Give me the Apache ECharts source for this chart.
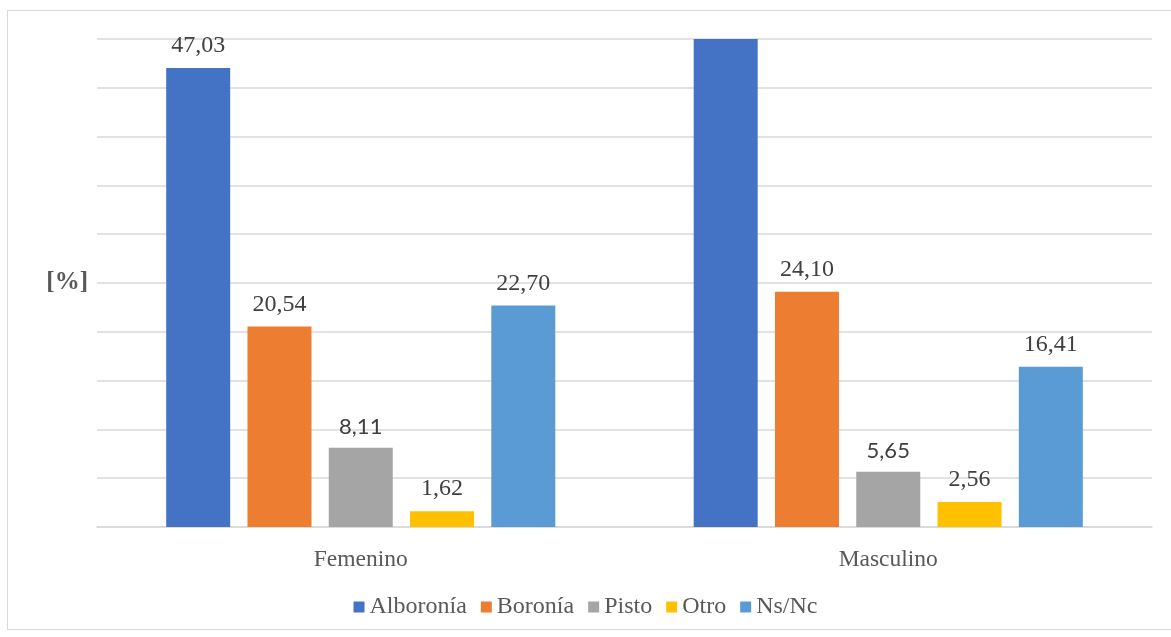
<!DOCTYPE html>
<html>
<head>
<meta charset="utf-8">
<script src="https://cdn.jsdelivr.net/npm/echarts@6/dist/echarts.min.js"></script>
<style>
  html, body { margin: 0; padding: 0; background: #fff; }
  #chart { width: 1171px; height: 637px; }
  #frame { position: absolute; left: 7px; top: 10px; width: 1170px; height: 620px; border: 1px solid #d9d9d9; box-sizing: border-box; pointer-events: none; }
</style>
</head>
<body>
<div id="chart"></div>
<div id="frame"></div>
<script>
var categories = ['Femenino', 'Masculino'];
var seriesNames = ['Alboronía', 'Boronía', 'Pisto', 'Otro', 'Ns/Nc'];
var alboronia = [47.03, 51.28];
var boronia = [20.54, 24.10];
var pisto = [8.11, 5.65];
var otro = [1.62, 2.56];
var nsnc = [22.70, 16.41];
var colors = ['#4472C4', '#ED7D31', '#A5A5A5', '#FFC000', '#5B9BD5'];
var yMax = 50;

var serif = '"Liberation Serif", "Times New Roman", serif';

function makeSeries(name, values, color, sansLabel) {
  return {
    name: name,
    type: 'bar',
    barWidth: 64,
    barGap: '27%',
    clip: true,
    itemStyle: { color: color },
    label: {
      show: true,
      position: 'top',
      distance: 10,
      color: '#404040',
      fontSize: sansLabel ? 22 : 24,
      fontFamily: sansLabel ? 'Lato, "Noto Sans", sans-serif' : serif,
      formatter: function (p) { return p.value.toFixed(2).replace('.', ','); }
    },
    data: values.map(function (v) {
      // Excel hides the label of a bar that runs past the axis max
      return v > yMax ? { value: v, label: { show: false } } : v;
    })
  };
}

var myChart = echarts.init(document.getElementById('chart'));
var option = {
  animation: false,
  grid: { left: 97, right: 19, top: 39, bottom: 110 },
  legend: {
    bottom: 13,
    left: 'center',
    icon: 'rect',
    itemWidth: 11,
    itemHeight: 11,
    itemGap: 14,
    textStyle: { color: '#595959', fontSize: 24, fontFamily: serif },
    data: seriesNames
  },
  xAxis: {
    type: 'category',
    data: categories,
    axisTick: { show: false },
    axisLine: { lineStyle: { color: '#d9d9d9', width: 1.5 } },
    axisLabel: { color: '#595959', fontSize: 23.5, fontFamily: serif, margin: 21 }
  },
  yAxis: {
    type: 'value',
    min: 0,
    max: yMax,
    interval: 5,
    name: '[%]',
    nameLocation: 'middle',
    nameRotate: 0,
    nameGap: 9,
    nameTextStyle: { color: '#595959', fontSize: 25, fontWeight: 'bold', fontFamily: serif, align: 'right' },
    axisLabel: { show: false },
    axisLine: { show: false },
    axisTick: { show: false },
    splitLine: { lineStyle: { color: '#d9d9d9', width: 1.5 } }
  },
  series: [
    makeSeries(seriesNames[0], alboronia, colors[0], false),
    makeSeries(seriesNames[1], boronia, colors[1], false),
    makeSeries(seriesNames[2], pisto, colors[2], true),
    makeSeries(seriesNames[3], otro, colors[3], false),
    makeSeries(seriesNames[4], nsnc, colors[4], false)
  ]
};
myChart.setOption(option);
</script>
</body>
</html>
